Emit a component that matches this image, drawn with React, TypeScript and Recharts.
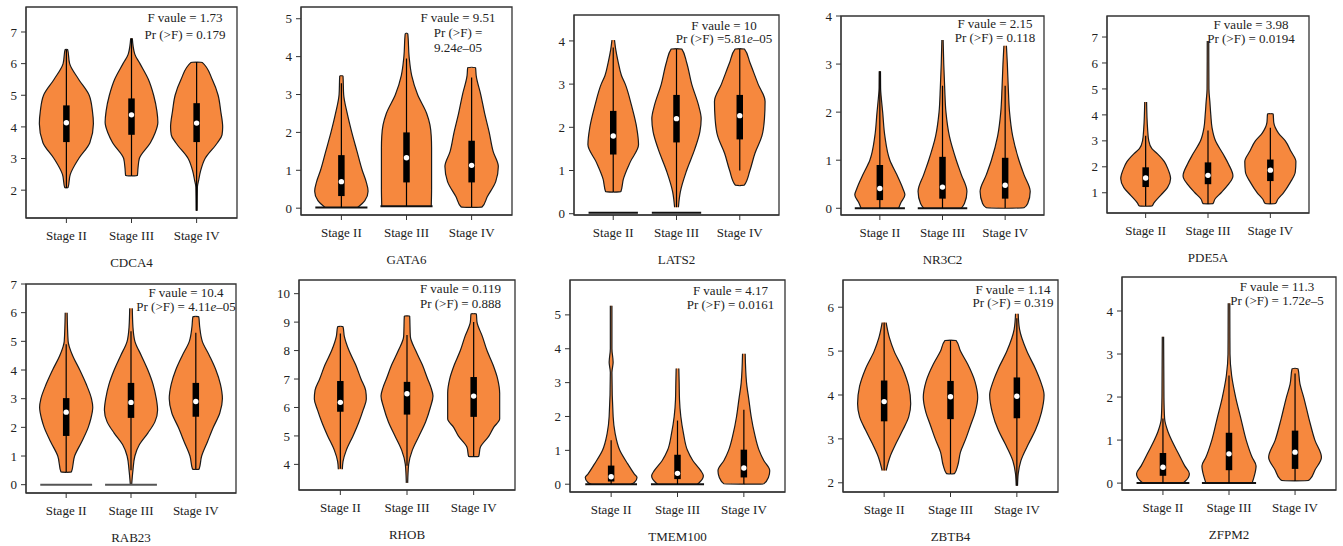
import React from 'react';
import { ComposedChart, Area, Line, XAxis, YAxis, ReferenceArea, Label } from 'recharts';

const STAGES = ['Stage II', 'Stage III', 'Stage IV'];
const GENES = ['CDCA4', 'GATA6', 'LATS2', 'NR3C2', 'PDE5A', 'RAB23', 'RHOB', 'TMEM100', 'ZBTB4', 'ZFPM2'];

const NOTES = [
  ['F vaule = 1.73', 'Pr (>F) = 0.179'],
  ['F vaule = 9.51', 'Pr (>F) =', '9.24e–05'],
  ['F vaule = 10', 'Pr (>F) =5.81e–05'],
  ['F vaule = 2.15', 'Pr (>F) = 0.118'],
  ['F vaule = 3.98', 'Pr (>F) = 0.0194'],
  ['F vaule = 10.4', 'Pr (>F) = 4.11e–05'],
  ['F vaule = 0.119', 'Pr (>F) = 0.888'],
  ['F vaule = 4.17', 'Pr (>F) = 0.0161'],
  ['F vaule = 1.14', 'Pr (>F) = 0.319'],
  ['F vaule = 11.3', 'Pr (>F) = 1.72e–5'],
];

const Y_TICKS = [
  [2, 3, 4, 5, 6, 7],
  [0, 1, 2, 3, 4, 5],
  [0, 1, 2, 3, 4],
  [0, 1, 2, 3, 4],
  [1, 2, 3, 4, 5, 6, 7],
  [0, 1, 2, 3, 4, 5, 6, 7],
  [4, 5, 6, 7, 8, 9, 10],
  [0, 1, 2, 3, 4, 5],
  [2, 3, 4, 5, 6],
  [0, 1, 2, 3, 4],
];

// violin outlines: [value, half width] per stage
const CDCA4_SHAPE = [
  [[2.07, 0], [2.08, 0.025], [2.5, 0.06], [3.0, 0.19], [3.5, 0.36], [4.1, 0.415], [4.5, 0.4], [5.0, 0.35], [5.5, 0.19], [6.0, 0.05], [6.44, 0.02], [6.45, 0]],
  [[2.45, 0], [2.46, 0.09], [2.7, 0.1], [3.0, 0.12], [3.5, 0.29], [3.8, 0.36], [4.15, 0.405], [4.5, 0.39], [5.0, 0.34], [5.5, 0.26], [6.0, 0.13], [6.3, 0.05], [6.8, 0.012]],
  [[1.35, 0.008], [2.1, 0.012], [2.3, 0.03], [2.6, 0.06], [3.0, 0.13], [3.5, 0.32], [3.75, 0.39], [4.0, 0.4], [4.5, 0.37], [5.0, 0.33], [5.5, 0.24], [6.04, 0.085], [6.05, 0]],
];
const GATA6_SHAPE = [
  [[0.02, 0.25], [0.2, 0.36], [0.45, 0.41], [0.7, 0.38], [1.0, 0.32], [1.5, 0.24], [2.0, 0.16], [2.5, 0.09], [3.0, 0.035], [3.49, 0.025], [3.5, 0]],
  [[0.05, 0.38], [0.5, 0.385], [1.0, 0.385], [1.6, 0.385], [1.9, 0.38], [2.2, 0.36], [2.5, 0.31], [3.0, 0.17], [3.5, 0.08], [4.0, 0.04], [4.6, 0.02], [4.62, 0]],
  [[0.02, 0], [0.03, 0.16], [0.3, 0.24], [0.7, 0.37], [1.1, 0.41], [1.5, 0.33], [2.0, 0.27], [2.5, 0.2], [3.0, 0.14], [3.5, 0.07], [3.71, 0.06], [3.72, 0]],
];
const LATS2_SHAPE = [
  [[0.5, 0], [0.51, 0.12], [0.8, 0.16], [1.2, 0.27], [1.6, 0.4], [2.0, 0.37], [2.5, 0.29], [3.0, 0.19], [3.2, 0.13], [3.5, 0.08], [3.8, 0.04], [4.02, 0.02]],
  [[0.15, 0.03], [0.5, 0.06], [1.0, 0.16], [1.5, 0.29], [1.9, 0.37], [2.2, 0.39], [2.5, 0.35], [3.0, 0.24], [3.5, 0.16], [3.81, 0.085], [3.82, 0]],
  [[0.65, 0], [0.66, 0.07], [1.0, 0.16], [1.4, 0.24], [1.8, 0.35], [2.2, 0.39], [2.6, 0.4], [3.0, 0.29], [3.5, 0.16], [3.81, 0.075], [3.82, 0]],
];
const NR3C2_SHAPE = [
  [[0.0, 0.3], [0.1, 0.33], [0.28, 0.4], [0.4, 0.37], [0.7, 0.27], [1.0, 0.16], [1.5, 0.08], [2.0, 0.045], [2.2, 0.03], [2.5, 0.012], [2.85, 0.01]],
  [[0.0, 0.3], [0.1, 0.35], [0.35, 0.39], [0.7, 0.3], [1.0, 0.22], [1.5, 0.11], [2.0, 0.055], [2.5, 0.035], [3.0, 0.02], [3.5, 0.01]],
  [[0.0, 0], [0.01, 0.3], [0.1, 0.36], [0.35, 0.4], [0.7, 0.3], [1.0, 0.22], [1.5, 0.12], [2.0, 0.07], [2.5, 0.05], [3.0, 0.035], [3.38, 0.02]],
];
const PDE5A_SHAPE = [
  [[0.48, 0], [0.49, 0.1], [0.6, 0.13], [0.9, 0.24], [1.2, 0.35], [1.55, 0.4], [1.9, 0.36], [2.2, 0.3], [2.5, 0.19], [2.7, 0.1], [3.0, 0.05], [3.5, 0.03], [4.5, 0.015]],
  [[0.57, 0], [0.58, 0.08], [0.75, 0.11], [1.0, 0.21], [1.3, 0.32], [1.65, 0.4], [2.1, 0.33], [2.5, 0.24], [3.0, 0.12], [3.5, 0.065], [4.0, 0.045], [4.5, 0.03], [5.0, 0.015], [6.85, 0.012]],
  [[0.57, 0], [0.58, 0.08], [0.75, 0.12], [1.0, 0.21], [1.4, 0.32], [1.8, 0.4], [2.2, 0.41], [2.6, 0.33], [3.0, 0.24], [3.3, 0.13], [3.7, 0.055], [4.04, 0.045], [4.05, 0]],
];
const RAB23_SHAPE = [
  [[0.43, 0], [0.44, 0.08], [1.0, 0.13], [1.5, 0.24], [2.0, 0.34], [2.3, 0.38], [2.7, 0.41], [3.0, 0.39], [3.5, 0.31], [4.0, 0.21], [4.5, 0.1], [4.8, 0.05], [5.0, 0.03], [6.0, 0.015]],
  [[0.0, 0.01], [0.5, 0.03], [1.0, 0.06], [1.4, 0.13], [1.8, 0.26], [2.2, 0.37], [2.6, 0.41], [3.0, 0.39], [3.5, 0.34], [4.0, 0.26], [4.5, 0.16], [5.0, 0.06], [5.5, 0.03], [6.15, 0.02]],
  [[0.53, 0], [0.54, 0.05], [1.0, 0.09], [1.5, 0.18], [2.0, 0.27], [2.5, 0.37], [3.0, 0.41], [3.5, 0.38], [4.0, 0.31], [4.5, 0.21], [5.0, 0.1], [5.5, 0.06], [5.86, 0.045], [5.87, 0]],
];
const RHOB_SHAPE = [
  [[3.83, 0.03], [4.1, 0.04], [4.5, 0.09], [5.0, 0.19], [5.5, 0.28], [5.9, 0.34], [6.3, 0.39], [6.6, 0.38], [7.0, 0.31], [7.5, 0.23], [8.0, 0.13], [8.5, 0.06], [8.84, 0.04], [8.85, 0]],
  [[3.35, 0.01], [4.0, 0.025], [4.5, 0.08], [5.0, 0.18], [5.5, 0.28], [6.0, 0.35], [6.4, 0.39], [6.7, 0.36], [7.0, 0.31], [7.5, 0.23], [8.0, 0.13], [8.5, 0.05], [9.21, 0.04], [9.22, 0]],
  [[4.27, 0], [4.28, 0.075], [4.6, 0.1], [5.0, 0.23], [5.3, 0.3], [5.6, 0.39], [6.0, 0.39], [6.5, 0.39], [7.0, 0.36], [7.5, 0.29], [8.0, 0.2], [8.5, 0.13], [9.0, 0.05], [9.29, 0.04], [9.3, 0]],
];
const TMEM100_SHAPE = [
  [[0.0, 0.3], [0.05, 0.35], [0.2, 0.39], [0.3, 0.35], [0.6, 0.25], [1.0, 0.13], [1.5, 0.06], [2.0, 0.03], [3.3, 0.012], [3.6, 0.03], [4.0, 0.012], [5.27, 0.012]],
  [[0.0, 0.3], [0.05, 0.33], [0.25, 0.39], [0.4, 0.35], [0.7, 0.23], [1.0, 0.15], [1.5, 0.09], [2.0, 0.05], [2.5, 0.03], [3.0, 0.025], [3.42, 0.02]],
  [[0.0, 0], [0.01, 0.3], [0.2, 0.37], [0.4, 0.39], [0.7, 0.3], [1.0, 0.23], [1.5, 0.16], [2.0, 0.11], [2.5, 0.075], [3.0, 0.04], [3.85, 0.02]],
];
const ZBTB4_SHAPE = [
  [[2.28, 0.03], [2.6, 0.09], [2.9, 0.18], [3.2, 0.28], [3.5, 0.37], [3.8, 0.4], [4.2, 0.37], [4.6, 0.28], [5.0, 0.15], [5.3, 0.08], [5.65, 0.03]],
  [[2.2, 0], [2.21, 0.06], [2.4, 0.11], [2.7, 0.15], [3.0, 0.23], [3.3, 0.3], [3.6, 0.37], [3.95, 0.41], [4.3, 0.37], [4.7, 0.26], [5.0, 0.15], [5.24, 0.085], [5.25, 0]],
  [[1.93, 0.01], [2.2, 0.02], [2.5, 0.06], [2.9, 0.18], [3.2, 0.28], [3.6, 0.37], [4.0, 0.41], [4.3, 0.36], [4.6, 0.28], [5.0, 0.15], [5.5, 0.04], [5.85, 0.02]],
];
const ZFPM2_SHAPE = [
  [[0.0, 0.3], [0.05, 0.34], [0.22, 0.4], [0.4, 0.33], [0.7, 0.23], [1.0, 0.13], [1.2, 0.075], [1.5, 0.025], [2.0, 0.015], [3.4, 0.01]],
  [[0.0, 0.35], [0.15, 0.38], [0.4, 0.41], [0.6, 0.35], [1.0, 0.26], [1.5, 0.18], [2.0, 0.1], [2.5, 0.04], [3.0, 0.015], [4.18, 0.012]],
  [[0.05, 0], [0.06, 0.2], [0.1, 0.23], [0.3, 0.3], [0.6, 0.4], [1.0, 0.3], [1.5, 0.21], [2.0, 0.13], [2.3, 0.075], [2.66, 0.045], [2.67, 0]],
];

// box summaries: [whisker low, q1, median, q3, whisker high]
const CDCA4_BOX = [[2.07, 3.52, 4.13, 4.68, 6.45], [2.45, 3.75, 4.38, 4.9, 6.8], [1.35, 3.52, 4.12, 4.75, 6.05]];
const GATA6_BOX = [[0.02, 0.32, 0.7, 1.4, 3.3], [0.05, 0.68, 1.33, 2.0, 3.95], [0.02, 0.68, 1.13, 1.78, 3.45]];
const LATS2_BOX = [[0.5, 1.37, 1.8, 2.38, 3.85], [0.15, 1.65, 2.2, 2.75, 3.82], [1.0, 1.72, 2.27, 2.75, 3.82]];
const NR3C2_BOX = [[0, 0.17, 0.41, 0.9, 2.85], [0, 0.2, 0.44, 1.07, 2.55], [0, 0.2, 0.48, 1.05, 2.55]];
const PDE5A_BOX = [[0.48, 1.22, 1.57, 1.98, 3.2], [0.57, 1.33, 1.67, 2.17, 3.4], [0.57, 1.45, 1.87, 2.28, 3.5]];
const RAB23_BOX = [[0.43, 1.7, 2.53, 3.02, 4.9], [0.5, 2.33, 2.87, 3.55, 5.35], [0.53, 2.37, 2.9, 3.55, 5.3]];
const RHOB_BOX = [[3.85, 5.85, 6.18, 6.93, 8.6], [3.95, 5.75, 6.48, 6.9, 8.55], [4.27, 5.67, 6.4, 7.07, 9.0]];
const TMEM100_BOX = [[0, 0.08, 0.22, 0.55, 1.3], [0, 0.15, 0.32, 0.87, 1.88], [0, 0.2, 0.48, 1.02, 2.2]];
const ZBTB4_BOX = [[2.28, 3.4, 3.85, 4.33, 5.65], [2.2, 3.45, 3.96, 4.32, 5.25], [1.93, 3.47, 3.97, 4.4, 5.75]];
const ZFPM2_BOX = [[0, 0.17, 0.37, 0.7, 1.5], [0, 0.3, 0.68, 1.17, 2.5], [0.05, 0.33, 0.72, 1.22, 2.55]];

// flat bars at the bottom: [stage index, value, half width]
const ZERO_BARS = [
  [],
  [[0, 0.02, 0.4], [1, 0.05, 0.4]],
  [[0, 0.02, 0.39], [1, 0.02, 0.39]],
  [[0, 0, 0.4], [1, 0, 0.395]],
  [],
  [[0, 0, 0.4], [1, 0, 0.4]],
  [],
  [[0, 0, 0.39], [1, 0, 0.4]],
  [],
  [[0, 0, 0.4], [1, 0, 0.41]],
];

const SHAPES = [CDCA4_SHAPE, GATA6_SHAPE, LATS2_SHAPE, NR3C2_SHAPE, PDE5A_SHAPE, RAB23_SHAPE, RHOB_SHAPE, TMEM100_SHAPE, ZBTB4_SHAPE, ZFPM2_SHAPE];
const BOXES = [CDCA4_BOX, GATA6_BOX, LATS2_BOX, NR3C2_BOX, PDE5A_BOX, RAB23_BOX, RHOB_BOX, TMEM100_BOX, ZBTB4_BOX, ZFPM2_BOX];

// layout
const FRAMES = [
  { l: 26, t: 7, r: 237, b: 218 },
  { l: 301, t: 7, r: 512, b: 215 },
  { l: 574, t: 15, r: 779, b: 215 },
  { l: 841, t: 16, r: 1044, b: 215 },
  { l: 1107, t: 16, r: 1309, b: 213 },
  { l: 26, t: 284, r: 236, b: 493 },
  { l: 299, t: 280, r: 515, b: 490 },
  { l: 570, t: 280, r: 785, b: 492 },
  { l: 843, t: 280, r: 1058, b: 492 },
  { l: 1122, t: 277, r: 1336, b: 490 },
];
const Y_DOMAINS = [
  [1.12, 7.79], [-0.18, 5.31], [-0.03, 4.6], [-0.14, 4.0], [0.22, 7.81],
  [-0.29, 7.0], [3.1, 10.48], [-0.23, 6.03], [1.79, 6.62], [-0.16, 4.79],
];
const NOTE_POS = [
  [185, 17.5, 17], [458, 17, 15], [724, 25, 13], [995, 24.3, 13.8], [1251, 25, 14.5],
  [186, 293, 13.5], [460.5, 288.6, 15], [730.5, 291, 14.4], [1013, 289.6, 13.4], [1277, 286.7, 14],
];
const X_DOMAIN = [0.38, 3.62];
const FONT = '"Liberation Serif", "DejaVu Serif", serif';
const ORANGE = '#F6883E';
const INK = '#222';
const YW = 30;
const XH = 60;
const TOP = 10;

const fmt = (s: string) => {
  const parts = s.split('e–');
  if (parts.length === 1) return s;
  return (
    <>
      {parts[0]}
      <i>e</i>–{parts[1]}
    </>
  );
};

function Panel({ idx }: { idx: number }) {
  const f = FRAMES[idx];
  const [y0, y1] = Y_DOMAINS[idx];
  const w = f.r - f.l;
  const h = f.b - f.t;
  const tickStyle = { fill: INK, fontSize: 13, fontFamily: FONT };
  const barColor = idx === 5 ? '#555' : '#111';

  return (
    <div style={{ position: 'absolute', left: f.l - YW, top: f.t - TOP }}>
      <ComposedChart
        layout="vertical"
        width={YW + w + 3}
        height={h + TOP + XH}
        margin={{ top: TOP, right: 3, bottom: 0, left: 0 }}
      >
        <XAxis
          type="number"
          domain={X_DOMAIN}
          ticks={[1, 2, 3]}
          interval={0}
          tickFormatter={(v) => STAGES[v - 1]}
          allowDataOverflow
          height={XH}
          tickSize={5}
          tickMargin={8}
          stroke="#333"
          tick={tickStyle}
        >
          <Label value={GENES[idx]} position="insideBottom" offset={11} fill={INK} fontSize={13} fontFamily={FONT} />
        </XAxis>
        <YAxis
          type="number"
          dataKey="y"
          domain={[y0, y1]}
          ticks={Y_TICKS[idx]}
          interval={0}
          reversed
          allowDataOverflow
          width={YW}
          tickSize={5}
          tickMargin={4}
          stroke="#333"
          tick={tickStyle}
        />
        <ReferenceArea
          x1={X_DOMAIN[0]}
          x2={X_DOMAIN[1]}
          y1={y0}
          y2={y1}
          fill="none"
          stroke="#333"
          strokeWidth={1.3}
          ifOverflow="visible"
        />
        {SHAPES[idx].map((shape, k) => (
          <Area
            key={`violin-${k}`}
            data={shape.map(([y, hw]) => ({ y, hw }))}
            dataKey={(d: { hw: number }) => [k + 1 - d.hw, k + 1 + d.hw]}
            type="monotone"
            fill={ORANGE}
            fillOpacity={1}
            stroke="#1a1a1a"
            strokeWidth={1.2}
            dot={false}
            activeDot={false}
            isAnimationActive={false}
          />
        ))}
        {ZERO_BARS[idx].map(([k, v, hw], j) => (
          <Line
            key={`zero-${j}`}
            data={[{ y: v, x: k + 1 - hw }, { y: v, x: k + 1 + hw }]}
            dataKey="x"
            stroke={barColor}
            strokeWidth={2}
            dot={false}
            activeDot={false}
            isAnimationActive={false}
          />
        ))}
        {BOXES[idx].map(([lo, , , , hi], k) => (
          <Line
            key={`whisker-${k}`}
            data={[{ y: lo, x: k + 1 }, { y: hi, x: k + 1 }]}
            dataKey="x"
            stroke="#000"
            strokeWidth={1.2}
            dot={false}
            activeDot={false}
            isAnimationActive={false}
          />
        ))}
        {BOXES[idx].map(([, q1, , q3], k) => (
          <Line
            key={`box-${k}`}
            data={[{ y: q1, x: k + 1 }, { y: q3, x: k + 1 }]}
            dataKey="x"
            stroke="#000"
            strokeWidth={6.5}
            strokeLinecap="butt"
            dot={false}
            activeDot={false}
            isAnimationActive={false}
          />
        ))}
        {BOXES[idx].map(([, , med], k) => (
          <Line
            key={`median-${k}`}
            data={[{ y: med, x: k + 1 }]}
            dataKey="x"
            stroke="none"
            dot={{ r: 2.7, fill: '#fff', stroke: 'none', strokeWidth: 0 }}
            activeDot={false}
            isAnimationActive={false}
          />
        ))}
      </ComposedChart>
    </div>
  );
}

export default function App() {
  return (
    <div style={{ position: 'absolute', left: 0, top: 0, width: 1343, height: 546, background: '#fff', fontFamily: FONT }}>
      {GENES.map((g, i) => (
        <Panel key={g} idx={i} />
      ))}
      {NOTES.map((lines, i) => {
        const [cx, cy, gap] = NOTE_POS[i];
        return (
          <div
            key={`note-${i}`}
            style={{
              position: 'absolute',
              left: cx,
              top: cy - gap / 2,
              transform: 'translateX(-50%)',
              textAlign: 'center',
              whiteSpace: 'nowrap',
              fontSize: 13,
              lineHeight: `${gap}px`,
              color: INK,
            }}
          >
            {lines.map((s, j) => (
              <div key={j}>{fmt(s)}</div>
            ))}
          </div>
        );
      })}
    </div>
  );
}
